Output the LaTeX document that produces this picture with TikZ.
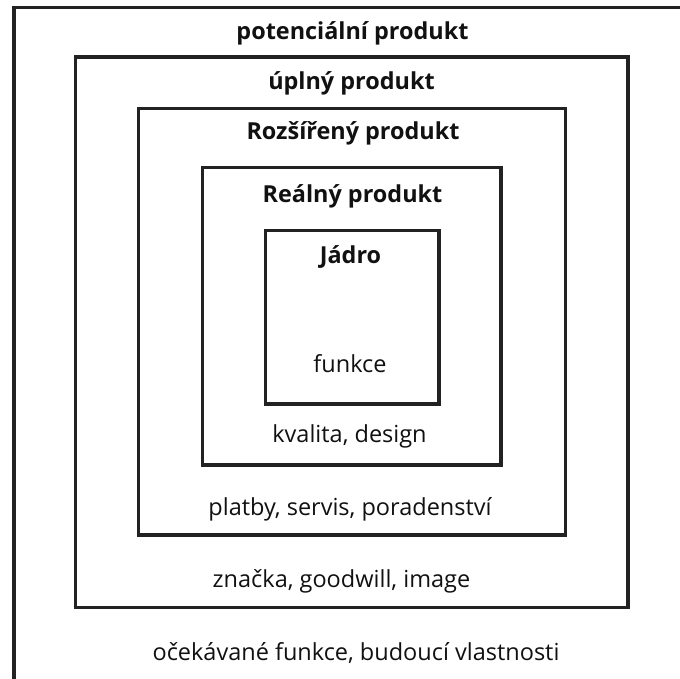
\documentclass[tikz,border=0pt]{standalone}
\usepackage{fontspec}
\setmainfont{Open Sans}
\definecolor{frame}{HTML}{222222}
\definecolor{ink}{HTML}{111111}
\begin{document}
\begin{tikzpicture}[x=1pt,y=-1pt,
  box/.style={draw=frame,line width=3.3pt,inner sep=0pt,outer sep=0pt},
  title/.style={font=\fontsize{23.4}{26}\selectfont\bfseries,text=ink,anchor=base,inner sep=0pt},
  body/.style={font=\fontsize{23.5}{26}\selectfont,text=ink,anchor=base,inner sep=0pt}]
\useasboundingbox (0,0) rectangle (680,679);
\clip (0,0) rectangle (680,679);
\fill[white] (0,0) rectangle (680,679);
% boxes
\node[box,minimum width=700pt,minimum height=700pt] (b1) at ({14+350},{7.5+350}) {};
\node[box,minimum width=552.5pt,minimum height=550.5pt] (b2) at ({(75.5+628)/2},{(57+607.5)/2}) {};
\node[box,minimum width=427.3pt,minimum height=426.5pt] (b3) at ({(138.5+565.8)/2},{(108.5+535)/2}) {};
\node[box,minimum width=298.5pt,minimum height=297.5pt] (b4) at ({(202.5+501)/2},{(167.5+465)/2}) {};
\node[box,minimum width=173.5pt,minimum height=173.5pt] (b5) at ({(265.5+439)/2},{(230.5+404)/2}) {};
% titles
\node[title] (t1) at (352.5,40) {potenciální produkt};
\node[title] (t2) at (351.5,90) {úplný produkt};
\node[title] (t3) at (353,140) {Rozšířený produkt};
\node[title] (t4) at (352.5,203) {Reálný produkt};
\node[title] (t5) at (350.5,263) {Jádro};
% descriptions
\node[body] (d5) at (350,372) {funkce};
\node[body] (d4) at (349.5,442) {kvalita, design};
\node[body] (d3) at (350,515) {platby, servis, poradenství};
\node[body] (d2) at (341.5,587) {značka, goodwill, image};
\node[body] (d1) at (356,660) {očekávané funkce, budoucí vlastnosti};
\end{tikzpicture}
\end{document}
